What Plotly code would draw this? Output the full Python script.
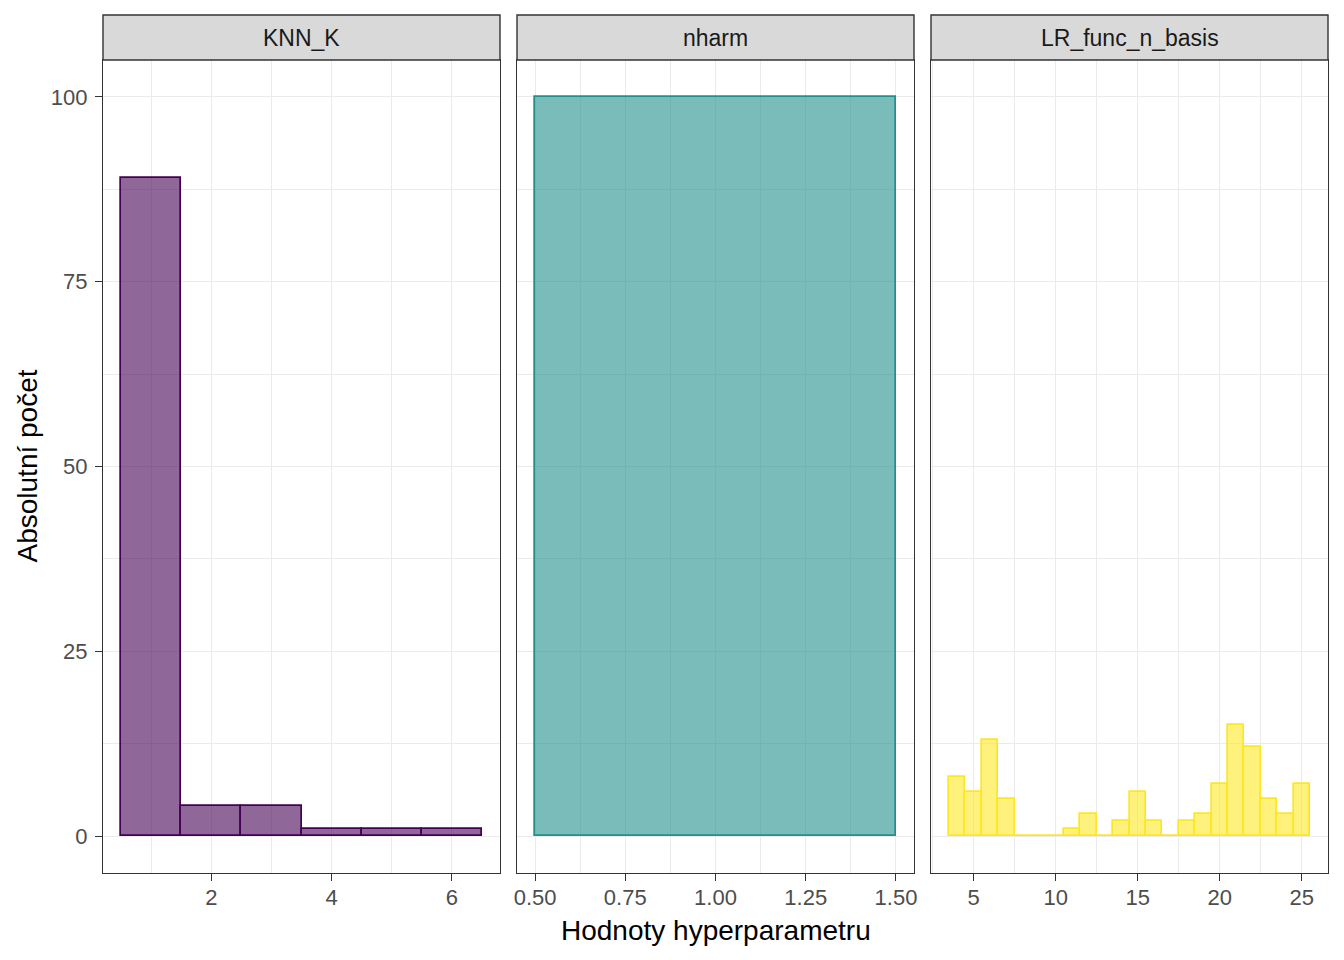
import plotly.graph_objects as go

# Data
panels = ["KNN_K", "nharm", "LR_func_n_basis"]
knn_x = [1, 2, 3, 4, 5, 6]
knn_y = [89, 4, 4, 1, 1, 1]
nharm_x = [1]
nharm_y = [100]
lr_x = list(range(4, 26))
lr_y = [8, 6, 13, 5, 0, 0, 0, 1, 3, 0, 2, 6, 2, 0, 2, 3, 7, 15, 12, 5, 3, 7]

fills = ["rgba(68,1,84,0.6)", "rgba(33,144,140,0.6)", "rgba(253,231,37,0.6)"]
lines = ["#440154", "#21908C", "#FDE725"]

W, H = 1344, 960
xdoms = [(103 / W, 500 / W), (517 / W, 914 / W), (931 / W, 1328 / W)]
ydom = ((960 - 873) / H, (960 - 60) / H)
strip = ((960 - 60) / H, (960 - 15) / H)
FONT = "Liberation Sans, Arial, sans-serif"

fig = go.Figure()
data = [(knn_x, knn_y), (nharm_x, nharm_y), (lr_x, lr_y)]
for i, (xs, ys) in enumerate(data):
    fig.add_trace(go.Bar(
        x=xs, y=ys, width=1,
        marker=dict(color=fills[i], line=dict(color=lines[i], width=1.7)),
        xaxis="x" if i == 0 else f"x{i+1}", yaxis="y" if i == 0 else f"y{i+1}",
        showlegend=False, hoverinfo="x+y",
    ))

grid = "#EBEBEB"
axis_common = dict(
    showline=True, linecolor="#333333", linewidth=1.4, mirror=True,
    showgrid=True, gridcolor=grid, gridwidth=1.1, zeroline=False,
    ticks="outside", ticklen=7, tickcolor="#333333", tickwidth=1.4,
    tickfont=dict(family=FONT, size=22, color="#4D4D4D"),
    automargin=False,
)

xranges = [(0.2, 6.8), (0.45, 1.55), (2.4, 26.6)]
xticks = [([2, 4, 6], ["2", "4", "6"], 1),
          ([0.5, 0.75, 1.0, 1.25, 1.5], ["0.50", "0.75", "1.00", "1.25", "1.50"], 0.125),
          ([5, 10, 15, 20, 25], ["5", "10", "15", "20", "25"], 2.5)]

layout = dict(
    width=W, height=H, margin=dict(l=0, r=0, t=0, b=0, autoexpand=False),
    plot_bgcolor="white", paper_bgcolor="white", bargap=0,
    font=dict(family=FONT, color="#1A1A1A"),
)
for i in range(3):
    xn = "xaxis" if i == 0 else f"xaxis{i+1}"
    yn = "yaxis" if i == 0 else f"yaxis{i+1}"
    tv, tt, mdt = xticks[i]
    layout[xn] = dict(axis_common, domain=list(xdoms[i]), range=list(xranges[i]),
                      tickmode="array", tickvals=tv, ticktext=tt,
                      anchor="y" if i == 0 else f"y{i+1}", ticklabelstandoff=-3,
                      minor=dict(tick0=tv[0], dtick=mdt, showgrid=True, gridcolor=grid,
                                 gridwidth=0.55, ticks=""))
    ya = dict(axis_common, domain=list(ydom), range=[-5, 105],
              tickmode="array", tickvals=[0, 25, 50, 75, 100],
              anchor="x" if i == 0 else f"x{i+1}", ticklabelstandoff=3,
              minor=dict(tick0=0, dtick=12.5, showgrid=True, gridcolor=grid,
                         gridwidth=0.55, ticks=""))
    if i > 0:
        ya.update(showticklabels=False, ticks="")
    layout[yn] = ya

fig.update_layout(**layout)

# strips
for i in range(3):
    fig.add_shape(type="rect", xref="paper", yref="paper",
                  x0=xdoms[i][0], x1=xdoms[i][1], y0=strip[0], y1=strip[1],
                  fillcolor="#D9D9D9", line=dict(color="#333333", width=1.4), layer="above")
    fig.add_annotation(text=panels[i], xref="paper", yref="paper",
                       x=(xdoms[i][0] + xdoms[i][1]) / 2, y=(strip[0] + strip[1]) / 2,
                       xanchor="center", yanchor="middle",
                       showarrow=False, font=dict(size=23, color="#1A1A1A", family=FONT))

fig.add_annotation(text="Hodnoty hyperparametru", xref="paper", yref="paper",
                   x=(xdoms[0][0] + xdoms[2][1]) / 2, y=(960 - 930) / H,
                   xanchor="center", yanchor="middle",
                   showarrow=False, font=dict(size=28, color="black", family=FONT))
fig.add_annotation(text="Absolutní počet", xref="paper", yref="paper",
                   x=27 / W, y=(ydom[0] + ydom[1]) / 2, textangle=-90,
                   xanchor="center", yanchor="middle",
                   showarrow=False, font=dict(size=28, color="black", family=FONT))

fig.write_html("out.html", config={"displayModeBar": False},
               post_script="document.body.style.margin='0';")
